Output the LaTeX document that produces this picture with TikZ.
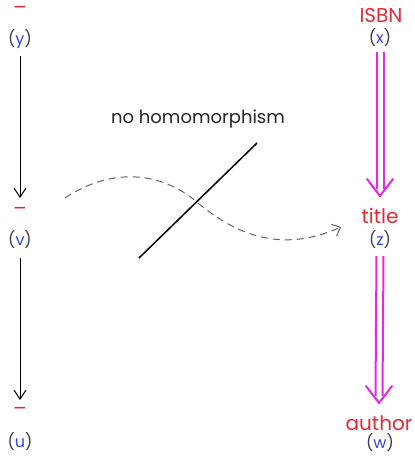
\documentclass[tikz,border=0pt]{standalone}
\usepackage{fontspec}
\setmainfont{Poppins}
\usetikzlibrary{arrows.meta,calc}
\definecolor{lblred}{RGB}{232,40,50}
\definecolor{varblue}{RGB}{50,70,225}
\definecolor{parengray}{RGB}{60,60,70}
\definecolor{mag}{RGB}{230,40,230}
\definecolor{dashgray}{RGB}{100,100,100}
\tikzset{
  lbl/.style={text=lblred, font=\fontsize{20}{22}\selectfont, inner sep=0pt, anchor=center},
  var/.style={font=\fontsize{16}{18}\selectfont, text=parengray, inner sep=0pt, anchor=center},
  plainarr/.style={draw=black, line width=1pt, -{Straight Barb[length=9pt,width=12pt,line width=1pt]}},
  dblline/.style={draw=mag, line width=2pt},
  dblhead/.style={draw=mag, line width=2pt, line cap=round, line join=round},
  dasharr/.style={draw=dashgray, line width=1pt, dash pattern=on 7pt off 5pt, -{Straight Barb[length=7pt,width=13pt,line width=1pt]}},
}
\newcommand{\vv}[1]{(\textcolor{varblue}{#1})}
\begin{document}
\begin{tikzpicture}[x=1pt,y=-1pt]
\useasboundingbox (0,0) rectangle (415,456);
% left column
\node[lbl] (ly) at (20,10) {–};
\node[var] (y) at (20,39) {\vv{y}};
\node[lbl] (lv) at (20,211) {–};
\node[var] (v) at (20,240) {\vv{v}};
\node[lbl] (lu) at (20,411) {–};
\node[var] (u) at (20,442) {\vv{u}};
\draw[plainarr] ([yshift=-17pt]y.center) -- ([yshift=13pt]lv.center);
\draw[plainarr] ([yshift=-18pt]v.center) -- ([yshift=11pt]lu.center);
% right column
\node[lbl] (lx) at (381,16) {ISBN};
\node[var] (x) at (380,38) {\vv{x}};
\node[lbl] (lz) at (380,216) {title};
\node[var] (z) at (380,240) {\vv{z}};
\node[lbl] (lw) at (379,423) {author};
\node[var] (w) at (380,443) {\vv{w}};
% double arrow x -> title
\coordinate (xt) at ([yshift=-14pt]x.center);
\coordinate (zt1) at ([yshift=20pt]lz.center);
\draw[dblline] ([xshift=-3.5pt]xt) -- ([xshift=-3.5pt,yshift=7pt]zt1);
\draw[dblline] ([xshift=3.5pt]xt) -- ([xshift=3.5pt,yshift=7pt]zt1);
\draw[dblhead] ([xshift=-13pt,yshift=17pt]zt1) -- (zt1) -- ([xshift=13pt,yshift=17pt]zt1);
% double arrow z -> author
\coordinate (zt) at ([yshift=-16pt]z.center);
\coordinate (wt1) at ([yshift=20pt]lw.center);
\draw[dblline] ([xshift=-3.5pt]zt) -- ([xshift=-3.5pt,yshift=7pt]wt1);
\draw[dblline] ([xshift=3.5pt]zt) -- ([xshift=3.5pt,yshift=7pt]wt1);
\draw[dblhead] ([xshift=-13pt,yshift=17pt]wt1) -- (wt1) -- ([xshift=13pt,yshift=17pt]wt1);
% middle
\node[font=\fontsize{18}{20}\selectfont, text=black!85, inner sep=0pt] (nh) at (198,119) {no homomorphism};
\coordinate (ds) at (65,198);
\coordinate (dm) at (198,203);
\coordinate (de) at (341,227);
\draw[dasharr] (ds) .. controls (110,168) and (160,170) .. (dm) .. controls (240,238) and (285,252) .. (de);
\coordinate (sa) at (139,258);
\coordinate (sb) at (257,143);
\draw[line width=1.5pt] (sa) -- (sb);
\end{tikzpicture}
\end{document}
